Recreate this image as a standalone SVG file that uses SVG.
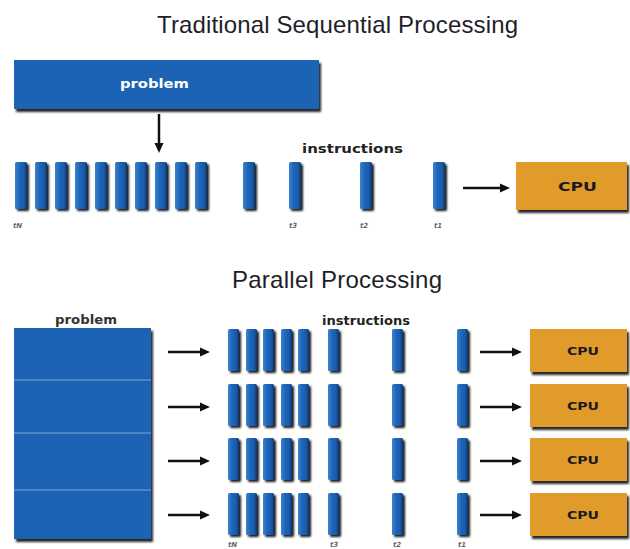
<svg xmlns="http://www.w3.org/2000/svg" width="630" height="549" viewBox="0 0 630 549">
<style>
.title{font-family:"Liberation Sans",Arial,sans-serif;font-size:24px;fill:#1e1e2a}
.lbl{font-family:"DejaVu Sans",sans-serif;font-weight:bold}
.tl{font-family:"DejaVu Sans",sans-serif;font-style:italic;font-weight:bold;font-size:7px;fill:#666}
.box{fill:#1e64b6;filter:url(#sh)}
.bar{fill:url(#bg);filter:url(#sh2)}
.cpu{fill:#e19b2b;filter:url(#sh)}
.conn{stroke:#111;stroke-width:2.5;fill:none;marker-end:url(#ah)}
</style>
<defs>
<linearGradient id="bg" x1="0" y1="0" x2="1" y2="0">
<stop offset="0" stop-color="#3d82d2"/>
<stop offset="0.35" stop-color="#2068bb"/>
<stop offset="0.75" stop-color="#1a5aaa"/>
<stop offset="1" stop-color="#0c3570"/>
</linearGradient>
<filter id="sh" x="-10%" y="-10%" width="125%" height="130%">
<feDropShadow dx="2" dy="3" stdDeviation="1.2" flood-color="#000" flood-opacity="0.85"/>
</filter>
<filter id="sh2" x="-40%" y="-10%" width="200%" height="130%">
<feDropShadow dx="2" dy="2" stdDeviation="1" flood-color="#000" flood-opacity="0.9"/>
</filter>
<marker id="ah" markerUnits="userSpaceOnUse" markerWidth="10" markerHeight="10" viewBox="0 0 10 10" refX="0" refY="5" orient="auto">
<path d="M0,0.5 L10,5 L0,9.5 z" fill="#111"/>
</marker>
<g id="b1"><rect class="bar" x="0" y="0" width="12" height="47" rx="1.5"/></g>
<g id="b2"><rect class="bar" x="0" y="0" width="11" height="42" rx="1.5"/></g>
</defs>

<text class="title" x="337.5" y="33" text-anchor="middle" textLength="361" lengthAdjust="spacing">Traditional Sequential Processing</text>
<text class="title" x="337" y="288" text-anchor="middle" textLength="210" lengthAdjust="spacing">Parallel Processing</text>

<g id="seq-problem">
<rect class="box" x="14" y="60" width="305" height="49"/>
<text class="lbl" x="154.5" y="88" text-anchor="middle" font-size="13" fill="#fff" textLength="69" lengthAdjust="spacingAndGlyphs">problem</text>
</g>

<g id="seq-instructions">
<text class="lbl" x="352.5" y="153" text-anchor="middle" font-size="13" fill="#222" textLength="101" lengthAdjust="spacingAndGlyphs">instructions</text>
<use href="#b1" x="15" y="162"/>
<use href="#b1" x="35" y="162"/>
<use href="#b1" x="55" y="162"/>
<use href="#b1" x="75" y="162"/>
<use href="#b1" x="95" y="162"/>
<use href="#b1" x="115" y="162"/>
<use href="#b1" x="135" y="162"/>
<use href="#b1" x="155" y="162"/>
<use href="#b1" x="175" y="162"/>
<use href="#b1" x="195" y="162"/>
<use href="#b1" x="243" y="162"/>
<use href="#b1" x="289" y="162"/>
<use href="#b1" x="360" y="162"/>
<use href="#b1" x="433" y="162"/>
<text class="tl" x="13" y="228" font-size="8">tN</text>
<text class="tl" x="289" y="228" font-size="8">t3</text>
<text class="tl" x="360" y="228" font-size="8">t2</text>
<text class="tl" x="434" y="228" font-size="8">t1</text>
</g>

<g id="seq-cpu">
<rect class="cpu" x="516" y="162" width="111" height="48"/>
<text class="lbl" x="577.5" y="191" text-anchor="middle" font-size="13" fill="#1a1a1a" textLength="39" lengthAdjust="spacingAndGlyphs">CPU</text>
</g>

<g id="par-problem">
<text class="lbl" x="86" y="324" text-anchor="middle" font-size="12" fill="#333" textLength="62" lengthAdjust="spacingAndGlyphs">problem</text>
<rect class="box" x="14" y="328" width="137" height="211"/>
<g stroke="#7fa6d6" stroke-width="1.2">
<line x1="14" y1="380" x2="151" y2="380"/>
<line x1="14" y1="433" x2="151" y2="433"/>
<line x1="14" y1="490" x2="151" y2="490"/>
</g>
</g>

<g id="par-instructions">
<text class="lbl" x="366" y="325" text-anchor="middle" font-size="12" fill="#222" textLength="88" lengthAdjust="spacingAndGlyphs">instructions</text>
<g id="row1">
<use href="#b2" x="228" y="329"/><use href="#b2" x="246" y="329"/><use href="#b2" x="263" y="329"/><use href="#b2" x="281" y="329"/><use href="#b2" x="298" y="329"/>
<use href="#b2" x="328" y="329"/><use href="#b2" x="392" y="329"/><use href="#b2" x="457" y="329"/>
</g>
<g id="row2">
<use href="#b2" x="228" y="384"/><use href="#b2" x="246" y="384"/><use href="#b2" x="263" y="384"/><use href="#b2" x="281" y="384"/><use href="#b2" x="298" y="384"/>
<use href="#b2" x="328" y="384"/><use href="#b2" x="392" y="384"/><use href="#b2" x="457" y="384"/>
</g>
<g id="row3">
<use href="#b2" x="228" y="438"/><use href="#b2" x="246" y="438"/><use href="#b2" x="263" y="438"/><use href="#b2" x="281" y="438"/><use href="#b2" x="298" y="438"/>
<use href="#b2" x="328" y="438"/><use href="#b2" x="392" y="438"/><use href="#b2" x="457" y="438"/>
</g>
<g id="row4">
<use href="#b2" x="228" y="493"/><use href="#b2" x="246" y="493"/><use href="#b2" x="263" y="493"/><use href="#b2" x="281" y="493"/><use href="#b2" x="298" y="493"/>
<use href="#b2" x="328" y="493"/><use href="#b2" x="392" y="493"/><use href="#b2" x="457" y="493"/>
</g>
<text class="tl" x="228" y="547">tN</text>
<text class="tl" x="330" y="547">t3</text>
<text class="tl" x="393" y="547">t2</text>
<text class="tl" x="458" y="547">t1</text>
</g>

<g id="par-cpu1"><rect class="cpu" x="530" y="329" width="97" height="43"/><text class="lbl" x="583" y="355" text-anchor="middle" font-size="11" fill="#1a1a1a" textLength="32" lengthAdjust="spacingAndGlyphs">CPU</text></g>
<g id="par-cpu2"><rect class="cpu" x="530" y="384" width="97" height="43"/><text class="lbl" x="583" y="410" text-anchor="middle" font-size="11" fill="#1a1a1a" textLength="32" lengthAdjust="spacingAndGlyphs">CPU</text></g>
<g id="par-cpu3"><rect class="cpu" x="530" y="438" width="97" height="43"/><text class="lbl" x="583" y="464" text-anchor="middle" font-size="11" fill="#1a1a1a" textLength="32" lengthAdjust="spacingAndGlyphs">CPU</text></g>
<g id="par-cpu4"><rect class="cpu" x="530" y="493" width="97" height="43"/><text class="lbl" x="583" y="519" text-anchor="middle" font-size="11" fill="#1a1a1a" textLength="32" lengthAdjust="spacingAndGlyphs">CPU</text></g>

<g id="connectors">
<line class="conn" x1="159" y1="114" x2="159" y2="143"/>
<line class="conn" x1="463" y1="188" x2="500" y2="188"/>
<line class="conn" x1="168" y1="352" x2="200" y2="352"/>
<line class="conn" x1="168" y1="407" x2="200" y2="407"/>
<line class="conn" x1="168" y1="461" x2="200" y2="461"/>
<line class="conn" x1="168" y1="515" x2="200" y2="515"/>
<line class="conn" x1="480" y1="352" x2="512" y2="352"/>
<line class="conn" x1="480" y1="407" x2="512" y2="407"/>
<line class="conn" x1="480" y1="461" x2="512" y2="461"/>
<line class="conn" x1="480" y1="515" x2="512" y2="515"/>
</g>
</svg>
